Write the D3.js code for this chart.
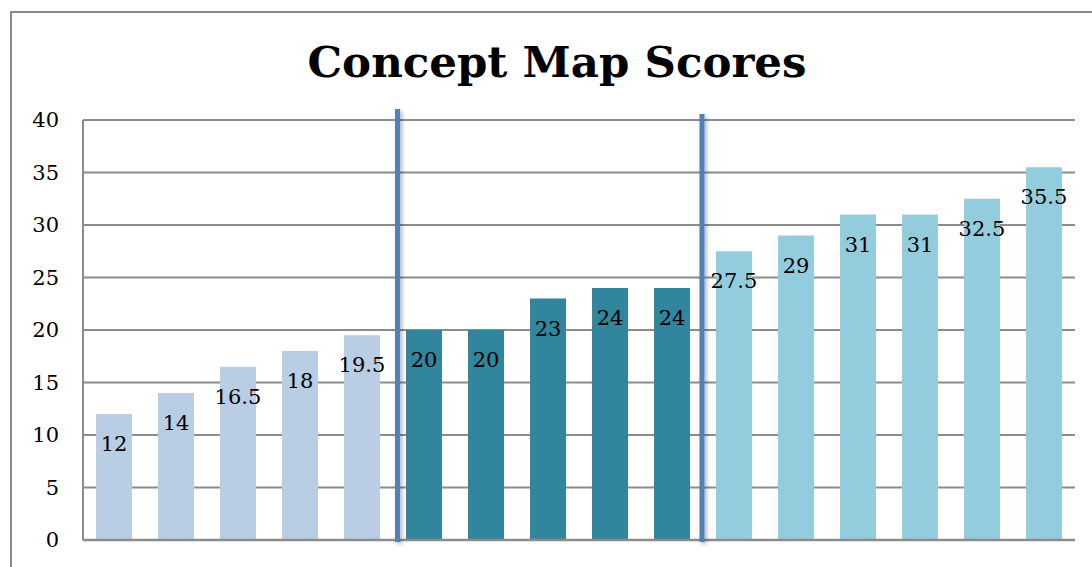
<!DOCTYPE html>
<html>
<head>
<meta charset="utf-8">
<script src="https://cdn.jsdelivr.net/npm/d3@7"></script>
<style>
  body { margin: 0; background: #fff; }
  svg { display: block; }
</style>
</head>
<body>
<div id="chart"></div>
<script>
// values
var scores = [12, 14, 16.5, 18, 19.5, 20, 20, 23, 24, 24, 27.5, 29, 31, 31, 32.5, 35.5];
var groups = [0, 0, 0, 0, 0, 1, 1, 1, 1, 1, 2, 2, 2, 2, 2, 2];
var groupColors = ["#b9cde5", "#31859c", "#93cddd"];
var yTicks = [0, 5, 10, 15, 20, 25, 30, 35, 40];
var dividers = [5, 10]; // vertical lines sit before these bars
var title = "Concept Map Scores";

var width = 1092, height = 567;
var margin = {top: 120, right: 17, bottom: 27, left: 83};

var svg = d3.select("#chart").append("svg")
    .attr("width", width)
    .attr("height", height);

// outer frame, runs off the right and bottom edges
svg.append("rect")
    .attr("x", 11).attr("y", 12)
    .attr("width", 1200).attr("height", 700)
    .style("fill", "none")
    .style("stroke", "#8a8a8a")
    .style("stroke-width", 2);

var xScale = d3.scaleBand()
    .domain(d3.range(scores.length))
    .range([margin.left, width - margin.right])
    .paddingInner(0.42)
    .paddingOuter(0.21);

var yScale = d3.scaleLinear()
    .domain([0, 40])
    .range([height - margin.bottom, margin.top]);

// gridlines
svg.append("g").selectAll("line")
    .data(yTicks.filter(function(d) { return d > 0; }))
    .enter().append("line")
    .attr("x1", margin.left).attr("x2", width - margin.right)
    .attr("y1", function(d) { return yScale(d); })
    .attr("y2", function(d) { return yScale(d); })
    .style("stroke", "#8c8c8c")
    .style("stroke-width", 2);

// y axis labels
svg.append("g").selectAll("text")
    .data(yTicks)
    .enter().append("text")
    .attr("x", 59)
    .attr("y", function(d) { return yScale(d); })
    .attr("dy", "0.35em")
    .style("text-anchor", "end")
    .style("font-family", "'DejaVu Serif', serif")
    .style("font-size", "21px")
    .style("fill", "#000")
    .text(function(d) { return d; });

// bars
svg.append("g").selectAll("rect")
    .data(scores)
    .enter().append("rect")
    .attr("x", function(d, i) { return xScale(i); })
    .attr("width", xScale.bandwidth())
    .attr("y", function(d) { return yScale(d); })
    .attr("height", function(d) { return yScale(0) - yScale(d); })
    .style("fill", function(d, i) { return groupColors[groups[i]]; });

// axis lines
svg.append("line")
    .attr("x1", margin.left).attr("x2", margin.left)
    .attr("y1", yScale(40)).attr("y2", yScale(0))
    .style("stroke", "#8c8c8c").style("stroke-width", 2);
svg.append("line")
    .attr("x1", margin.left).attr("x2", width - margin.right)
    .attr("y1", yScale(0)).attr("y2", yScale(0))
    .style("stroke", "#8c8c8c").style("stroke-width", 2.5);

// data labels
svg.append("g").selectAll("text")
    .data(scores)
    .enter().append("text")
    .attr("x", function(d, i) { return xScale(i) + xScale.bandwidth() / 2; })
    .attr("y", function(d) { return yScale(d) + 37; })
    .style("text-anchor", "middle")
    .style("font-family", "'DejaVu Serif', serif")
    .style("font-size", "21px")
    .style("fill", "#000")
    .text(function(d) { return d; });

// divider lines between the groups, with a soft shadow
var step = xScale.step();
var gap = step - xScale.bandwidth();
var shadow = svg.append("defs").append("filter").attr("id", "shade")
    .attr("x", "-3").attr("width", "7").attr("y", "-0.1").attr("height", "1.2");
shadow.append("feDropShadow")
    .attr("dx", 2).attr("dy", 2).attr("stdDeviation", 2)
    .attr("flood-color", "#000").attr("flood-opacity", 0.3);

var dividerTops = [109, 114];
var dividerNudge = [4.5, -1];
svg.append("g").selectAll("rect")
    .data(dividers)
    .enter().append("rect")
    .attr("x", function(d, i) { return xScale(d) - gap / 2 + dividerNudge[i] - 2.5; })
    .attr("width", 5)
    .attr("y", function(d, i) { return dividerTops[i]; })
    .attr("height", function(d, i) { return yScale(0) + 2 - dividerTops[i]; })
    .style("fill", "#4f81bd")
    .attr("filter", "url(#shade)");

// title
svg.append("text")
    .attr("x", 557)
    .attr("y", 77)
    .style("text-anchor", "middle")
    .style("font-family", "'DejaVu Serif', serif")
    .style("font-weight", "bold")
    .style("font-size", "43.5px")
    .style("fill", "#000")
    .text(title);
</script>
</body>
</html>
